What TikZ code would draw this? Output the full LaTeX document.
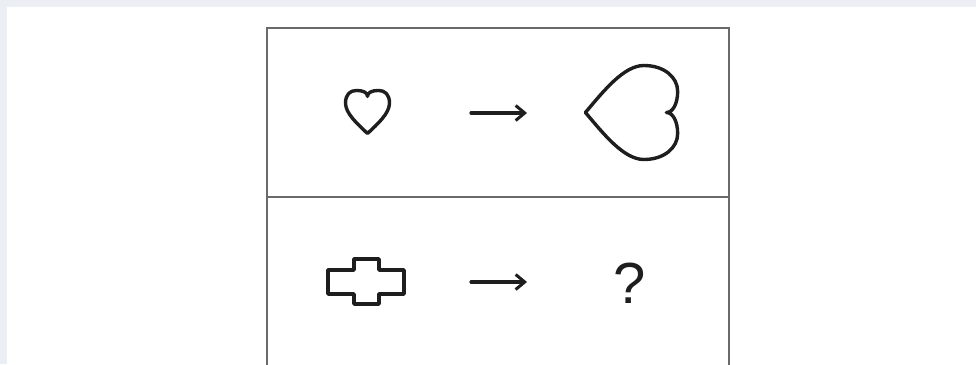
\documentclass[tikz,border=0pt]{standalone}
\usepackage{fontspec}
\setmainfont{Liberation Sans}
\usetikzlibrary{arrows.meta}
\definecolor{bgout}{HTML}{EBEFF3}
\definecolor{boxline}{HTML}{6A6A6A}
\definecolor{ink}{HTML}{1E1E1E}
\tikzset{
  frameline/.style={draw=boxline, line width=2.4pt},
  shapeline/.style={draw=ink, line width=3.4pt, line join=round},
  arrowline/.style={draw=ink, line width=3.2pt, line cap=round,
    -{Straight Barb[length=9pt,width=15pt,line width=3pt]}},
  qmark/.style={inner sep=0pt, font=\fontsize{58}{58}\selectfont, text=ink}
}
\begin{document}
\begin{tikzpicture}[x=1pt,y=-1pt]
\useasboundingbox (0,0) rectangle (976,364);
\fill[bgout] (0,0) rectangle (976,364);
\fill[white] (7,7) rectangle (976,364);
% frame
\draw[frameline] (267,366) -- (267,28) -- (729,28) -- (729,366);
\draw[frameline] (267,197) -- (729,197);
% small heart
\begin{scope}[shift={(367.5,112.5)}, x=22pt, y=21pt]
\draw[shapeline] (0,-1) .. controls (-0.45,-0.55) and (-1,-0.05) .. (-1,0.45)
  .. controls (-1,0.85) and (-0.8,1.05) .. (-0.5,1.05)
  .. controls (-0.2,1.05) and (0,0.95) .. (0,0.77)
  .. controls (0,0.95) and (0.2,1.05) .. (0.5,1.05)
  .. controls (0.8,1.05) and (1,0.85) .. (1,0.45)
  .. controls (1,-0.05) and (0.45,-0.55) .. (0,-1) -- cycle;
\end{scope}
% big heart, pointing left
\begin{scope}[shift={(630.4,112.5)}, rotate=-90, x=47pt, y=45pt]
\draw[shapeline] (0,-1) .. controls (-0.45,-0.6) and (-1,-0.15) .. (-1,0.3)
  .. controls (-1,0.75) and (-0.75,1.05) .. (-0.45,1.05)
  .. controls (-0.2,1.05) and (0,0.95) .. (0,0.8)
  .. controls (0,0.95) and (0.2,1.05) .. (0.45,1.05)
  .. controls (0.75,1.05) and (1,0.75) .. (1,0.3)
  .. controls (1,-0.15) and (0.45,-0.6) .. (0,-1) -- cycle;
\end{scope}
% cross
\draw[shapeline] (328,270) -- (354,270) -- (354,259) -- (379,259) -- (379,270)
  -- (404,270) -- (404,294) -- (379,294) -- (379,304) -- (354,304) -- (354,294)
  -- (328,294) -- cycle;
% arrows
\coordinate (a1s) at (471,113);
\coordinate (a1e) at (527,113);
\coordinate (a2s) at (471,282);
\coordinate (a2e) at (527,282);
\draw[arrowline] (a1s) -- (a1e);
\draw[arrowline] (a2s) -- (a2e);
% question mark
\node[qmark, anchor=base] (q) at (630,303) {?};
\end{tikzpicture}
\end{document}
